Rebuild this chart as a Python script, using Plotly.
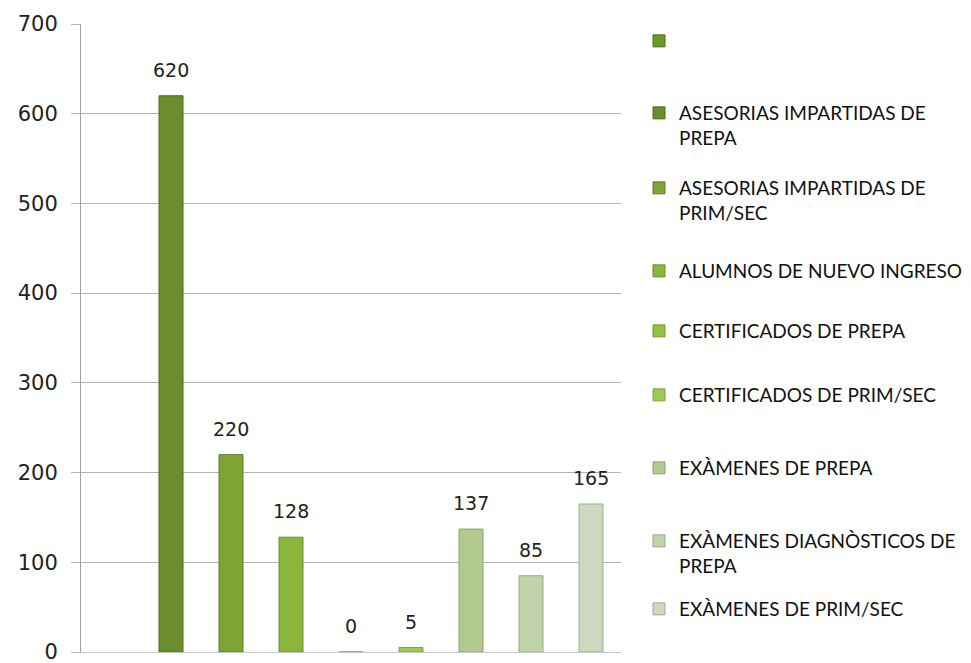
import plotly.graph_objects as go

# categories (first one has no label and no value in the original)
labels = [
    " ",
    "ASESORIAS IMPARTIDAS DE<br>PREPA",
    "ASESORIAS IMPARTIDAS DE<br>PRIM/SEC",
    "ALUMNOS DE NUEVO INGRESO",
    "CERTIFICADOS DE PREPA",
    "CERTIFICADOS DE PRIM/SEC",
    "EXÀMENES DE PREPA",
    "EXÀMENES DIAGNÒSTICOS DE<br>PREPA",
    "EXÀMENES DE PRIM/SEC",
]
values = [None, 620, 220, 128, 0, 5, 137, 85, 165]

colors = ["#6a9a2c", "#6c8d2e", "#7ea436", "#8bb63d", "#94c143",
          "#9ccb55", "#b2ca8e", "#c1d4a9", "#cdd9bf"]
edges = ["#4d6e1e", "#4f6a1f", "#5f7f26", "#6b8f2c", "#739a30",
         "#7aa43e", "#8ea26c", "#9aa886", "#a2ab96"]

# vertical spot (px from top) of each legend entry's first line
legend_y = [40, 112, 187, 270, 330, 394, 467, 540, 608]

W, H = 971, 663

fig = go.Figure()
for i, (name, val) in enumerate(zip(labels, values)):
    lg = "legend" if i == 0 else "legend%d" % (i + 1)
    fig.add_trace(go.Bar(
        x=[i], y=[val], name=name, width=0.4,
        marker=dict(color=colors[i], line=dict(color=edges[i], width=1)),
        legend=lg,
    ))
    if val is not None:
        fig.add_annotation(x=i, y=val, text=str(val), showarrow=False,
                           yanchor="bottom", yshift=13,
                           font=dict(family="DejaVu Sans", size=19, color="#222"))

legends = {}
for i, yy in enumerate(legend_y):
    key = "legend" if i == 0 else "legend%d" % (i + 1)
    legends[key] = dict(
        xref="container", yref="container",
        x=639 / W, y=1 - (yy - 18) / H,
        xanchor="left", yanchor="top", valign="top",
        bgcolor="rgba(0,0,0,0)", borderwidth=0,
        font=dict(family="Lato", size=19, color="#111"),
        itemwidth=30,
    )

fig.update_layout(
    width=W, height=H,
    margin=dict(l=81, r=W - 621, t=24, b=11, autoexpand=False),
    paper_bgcolor="white", plot_bgcolor="white",
    barmode="overlay",
    showlegend=True,
    xaxis=dict(range=[-0.5, 8.5], showticklabels=False, showgrid=False,
               zeroline=False, showline=True, linecolor="#c8c8c8",
               linewidth=1, ticks="", automargin=False),
    yaxis=dict(range=[0, 700], dtick=100, showgrid=True, gridcolor="#b4b4b4",
               gridwidth=1, zeroline=False, showline=True, linecolor="#a0a0a0",
               ticks="outside", ticklen=9, tickcolor="#b4b4b4",
               tickfont=dict(family="DejaVu Sans", size=21, color="#222"),
               ticklabelstandoff=9, ticklabeloverflow="allow",
               automargin=False),
    **legends,
)

fig.write_html("out.html", config={"displayModeBar": False},
               post_script="document.body.style.margin='0';")
